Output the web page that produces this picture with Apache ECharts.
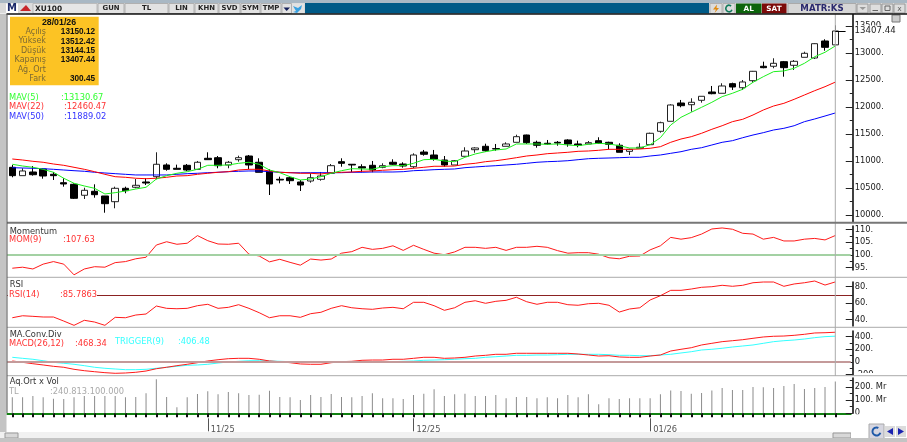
<!DOCTYPE html>
<html>
<head>
<meta charset="utf-8">
<title>XU100</title>
<style>
  html, body { margin: 0; padding: 0; background: #fff; }
  #chart { width: 907px; height: 442px; }
</style>
<script src="https://cdn.jsdelivr.net/npm/echarts@6/dist/echarts.min.js"></script>
</head>
<body>
<div id="chart"></div>
<script>
// session dates, one per candle (last slot is the empty gap before the scale)
const dates = ['06/10/25','07/10/25','08/10/25','09/10/25','10/10/25','13/10/25','14/10/25','15/10/25','16/10/25','17/10/25',
  '20/10/25','21/10/25','22/10/25','23/10/25','24/10/25','27/10/25','28/10/25','30/10/25','31/10/25',
  '03/11/25','04/11/25','05/11/25','06/11/25','07/11/25','10/11/25','11/11/25','12/11/25','13/11/25','14/11/25',
  '17/11/25','18/11/25','19/11/25','20/11/25','21/11/25','24/11/25','25/11/25','26/11/25','27/11/25','28/11/25',
  '01/12/25','02/12/25','03/12/25','04/12/25','05/12/25','08/12/25','09/12/25','10/12/25','11/12/25','12/12/25',
  '15/12/25','16/12/25','17/12/25','18/12/25','19/12/25','22/12/25','23/12/25','24/12/25','25/12/25','26/12/25',
  '29/12/25','30/12/25','31/12/25',
  '02/01/26','05/01/26','06/01/26','07/01/26','08/01/26','09/01/26','12/01/26','13/01/26','14/01/26','15/01/26',
  '16/01/26','19/01/26','20/01/26','21/01/26','22/01/26','23/01/26','26/01/26','27/01/26','28/01/26',''];
const monthStarts = { '03/11/25': '11/25', '01/12/25': '12/25', '02/01/26': '01/26' };

const open = [10883,10728,10796,10852,10754,10598,10568,10365,10439,10352,10246,10494,10513,10611,10709,10926,10865,10920,10846,11050,
  11061,10926,11024,11092,10976,10802,10661,10690,10611,10629,10661,10772,10987,10939,10894,10920,10883,10976,10944,10894,
  11166,11111,11018,10926,11087,11209,11272,11228,11272,11346,11481,11346,11328,11346,11389,11315,11315,11376,11346,11291,
  11179,11235,11302,11550,11735,12074,12042,12124,12278,12254,12432,12357,12487,12754,12754,12839,12772,12920,12907,13222,13150.12];
const close = [10728,10815,10746,10722,10728,10574,10309,10457,10376,10209,10494,10450,10550,10592,10939,10846,10846,10833,10976,11024,
  10913,10976,11061,10926,10791,10574,10648,10635,10555,10690,10722,10913,10957,10926,10870,10833,10913,10939,10907,11111,
  11124,11037,10926,11005,11185,11241,11190,11222,11315,11450,11339,11291,11315,11333,11315,11291,11339,11328,11309,11161,
  11216,11254,11513,11709,12037,12024,12087,12198,12246,12389,12370,12463,12661,12728,12809,12728,12846,12994,13172,13105,13407.44];
const low = [10698,10728,10728,10672,10648,10524,10296,10296,10320,10042,10124,10402,10494,10555,10661,10820,10846,10815,10846,11024,
  10865,10865,10987,10846,10791,10370,10587,10574,10444,10598,10635,10772,10894,10791,10791,10791,10865,10926,10876,10865,
  11098,11005,10894,10926,11087,11153,11172,11190,11272,11346,11315,11246,11302,11283,11265,11254,11315,11328,11217,11161,
  11111,11235,11302,11524,11735,11994,11913,12080,12235,12254,12315,12315,12450,12717,12717,12561,12685,12920,12889,13042,13144.15];
const high = [10926,10865,10907,10865,10796,10680,10587,10505,10568,10352,10524,10524,10666,10680,11161,10957,10932,10944,11000,11161,
  11092,11000,11098,11111,11050,10846,10709,10709,10648,10772,10796,10944,11050,10944,10939,11000,10957,11031,10976,11142,
  11204,11204,11092,11018,11254,11254,11320,11315,11346,11487,11487,11376,11389,11370,11402,11376,11370,11439,11357,11328,
  11228,11328,11524,11728,12050,12130,12161,12198,12389,12439,12450,12500,12667,12839,12902,12852,12870,13024,13180,13254,13512.42];

const mav5 = [10939,10907,10883,10846,10791,10680,10587,10537,10494,10389,10413,10444,10481,10513,10666,10728,10772,10802,10846,10920,
  10920,10926,10957,10976,10939,10833,10783,10709,10648,10666,10709,10772,10820,10857,10852,10846,10894,10913,10913,10957,
  11024,11031,11000,10987,11068,11130,11172,11204,11222,11315,11315,11315,11309,11315,11296,11283,11309,11328,11315,11283,
  11241,11241,11302,11431,11666,11809,11902,11994,12087,12191,12254,12328,12457,12561,12654,12667,12717,12809,12931,13013,13130.67];
const mav22 = [11037,11018,10994,10976,10944,10920,10883,10846,10802,10753,10709,10698,10680,10672,10680,10698,10722,10728,10753,10772,
  10791,10802,10833,10846,10846,10815,10791,10783,10772,10772,10759,10783,10791,10796,10809,10815,10828,10839,10846,10865,
  10883,10902,10902,10907,10939,10957,10987,11005,11031,11061,11092,11111,11135,11148,11161,11179,11185,11198,11216,11216,
  11216,11222,11235,11265,11346,11407,11450,11513,11587,11653,11728,11772,11852,11944,12018,12068,12142,12222,12302,12376,12460.47];
const mav50 = [10876,10870,10865,10857,10846,10833,10820,10809,10791,10778,10765,10753,10741,10741,10741,10741,10753,10765,10772,10783,
  10791,10802,10809,10815,10815,10802,10791,10783,10781,10783,10783,10783,10783,10791,10791,10796,10796,10796,10802,10820,
  10828,10839,10846,10852,10876,10889,10902,10913,10926,10939,10957,10976,10987,10994,11005,11024,11042,11050,11055,11061,
  11068,11068,11092,11111,11142,11172,11216,11246,11296,11346,11376,11431,11481,11524,11574,11605,11653,11728,11778,11833,11889.02];

const momentum = [94.8,95.2,94.5,96.4,97.4,96.4,92.2,94.5,95.4,95.2,97,97.4,98.5,99.1,103.9,105.2,104.2,104.6,107.6,105.6,
  104.3,104.2,104.6,100.3,99.6,97.3,98.3,97.1,96,98.4,98,98.4,100.7,101.3,103,102.2,102.6,103.6,101.8,103.8,
  102.2,100.7,100.1,101.2,103,103,102.6,103,101.8,103,103,103.4,103,101.7,100.7,100.9,100.9,100.3,98.9,98.5,
  99.5,99.6,102,103.6,106.9,106.2,106.8,108.2,110.2,110.6,110.1,108.5,108.2,106.2,106.9,105.5,105.5,106.2,106.5,105.9,107.63];
const rsi = [42.4,44.8,44.1,43.3,43.3,38.4,33.2,39.3,37.2,33.2,42.9,42.4,45.7,46.9,56.6,53.8,53.3,53.8,57,58.7,
  53.8,55,58.2,53.8,48.5,42.4,44.8,44.8,42.9,47.3,49,53.8,57,54.5,53.3,52.6,54.2,55,53.3,61.1,
  61.1,57,51.4,54.5,61.1,63,59.9,62.3,63.5,67.2,61.8,58.7,61.1,61.1,58.2,57.5,59.4,59.9,57.5,49.3,
  53,54.5,63.9,69.1,75.6,75.6,77.2,79.3,80,81.7,80.5,81.7,84.8,85.7,85.7,80.5,83.3,84.8,86.9,82,85.7863];
const macd = [16,-5,-27,-47,-68,-83,-115,-137,-153,-168,-178,-173,-162,-142,-106,-83,-58,-36,-11,16,
  36,52,58,58,43,16,5,-11,-31,-36,-36,-11,5,11,27,31,31,43,43,58,
  74,74,58,63,74,94,105,121,121,137,137,137,137,137,137,126,110,94,99,79,
  74,74,94,110,173,200,225,268,294,320,335,351,373,394,405,409,420,436,457,461,468.34];
const trigger = [74,58,43,20,-5,-20,-36,-58,-83,-99,-110,-121,-121,-115,-99,-83,-68,-52,-47,-36,
  -16,0,11,20,20,16,11,5,-5,-5,-5,-5,-5,-5,0,0,5,5,11,16,
  27,31,36,43,52,58,74,83,94,105,105,110,110,115,121,121,121,121,115,105,
  105,99,99,110,121,142,162,189,200,216,236,252,268,294,320,335,346,362,383,399,406.48];
// in millions of TL
const volume = [121,121,131,121,111,109,121,131,131,131,131,121,124,152,258,124,45,121,146,167,
  144,162,152,139,141,172,124,121,101,139,124,146,124,121,131,152,114,114,109,139,
  149,182,131,144,149,131,131,139,114,124,124,114,121,114,139,121,144,68,114,109,
  114,114,114,144,174,169,149,154,174,192,177,177,199,197,192,207,222,184,192,199,240.8];

const infoRows = [['Açılış','13150.12'],['Yüksek','13512.42'],['Düşük','13144.15'],['Kapanış','13407.44'],['Ağ. Ort',''],['Fark','300.45']];
const toolbarBtns = [['GUN',98,26],['TL',125,43],['LIN',169,25],['KHN',195,23],['SVD',219,21],['SYM',241,19],['TMP',261,20]];

const SLOT = 10.2875;
const PLOT_LEFT = 7.16;
const PLOT_W = SLOT * dates.length;
const last = dates.length - 2;

// panels: pixel band plus the value range that band shows
const panels = [
  { top: 14,  bottom: 222,   min: 9870,  max: 13722, major: [10000,10500,11000,11500,12000,12500,13000,13500], minor: [10250,10750,11250,11750,12250,12750,13250], fmt: v => v + '.' },
  { top: 226, bottom: 270,   min: 94.1,  max: 111.37, major: [95,100,105,110], minor: [97.5,102.5,107.5], fmt: v => v + '.' },
  { top: 282, bottom: 326,   min: 32.4,  max: 85.7,  major: [40,60,80], minor: [50,70], fmt: v => v + '.' },
  { top: 331, bottom: 375,   min: -204.7, max: 488,  major: [-200,0,200,400], minor: [-100,100,300], fmt: v => v === 0 ? '0' : v + '.' },
  { top: 378, bottom: 413.3, min: 0,     max: 268,   major: [0,100,200], minor: [50,150,250], fmt: v => v === 0 ? '0' : v + '. Mr' }
];

const grid = panels.map(p => ({ left: PLOT_LEFT, width: PLOT_W, top: p.top, height: p.bottom - p.top }));
grid.push({ left: PLOT_LEFT, width: PLOT_W, top: 14, height: 362 }); // cursor overlay

const xAxis = panels.map((p, i) => ({
  type: 'category', gridIndex: i, data: dates, show: i === 4,
  axisLine: { lineStyle: { color: '#128012', width: 2 } }, axisTick: { show: false }, axisLabel: { show: false }
}));
// small black date ticks under the volume panel
xAxis.push({
  type: 'category', gridIndex: 4, data: dates, position: 'bottom', offset: 5,
  axisLine: { show: false }, axisLabel: { show: false },
  axisTick: { show: true, alignWithLabel: true, interval: i => i <= last, length: 4, lineStyle: { color: '#111', width: 2 } }
});
// tall month marks with their labels
xAxis.push({
  type: 'category', gridIndex: 4, data: dates, position: 'bottom', offset: 5,
  axisLine: { show: false },
  axisTick: { show: true, alignWithLabel: true, interval: (i, d) => d in monthStarts, length: 13, lineStyle: { color: '#555', width: 1 } },
  axisLabel: {
    interval: (i, d) => d in monthStarts, formatter: d => monthStarts[d] || '', margin: 8,
    align: 'left', color: '#555', fontFamily: 'DejaVu Sans', fontSize: 8.3, padding: [0, 0, 0, 3]
  }
});
xAxis.push({ type: 'category', gridIndex: 5, data: dates, show: false });

const yAxis = [];
panels.forEach((p, i) => {
  yAxis.push({
    type: 'value', gridIndex: i, position: 'right', offset: 2, min: p.min, max: p.max, splitLine: { show: false },
    axisLine: { show: true, lineStyle: { color: '#000', width: 1.5 } },
    axisTick: { show: true, inside: true, length: 7, customValues: p.major, lineStyle: { color: '#222' } },
    axisLabel: { show: true, margin: 2, customValues: p.major, formatter: p.fmt, color: '#222', fontFamily: 'DejaVu Sans', fontSize: 8.3 }
  });
  yAxis.push({
    type: 'value', gridIndex: i, position: 'right', offset: 2, min: p.min, max: p.max, splitLine: { show: false },
    axisLine: { show: false }, axisLabel: { show: false },
    axisTick: { show: true, inside: true, length: 3, customValues: p.minor, lineStyle: { color: '#222' } }
  });
});
yAxis.push({ type: 'value', gridIndex: 5, min: 0, max: 1, show: false });

function indicator(panel, data, color, extra) {
  return Object.assign({
    type: 'line', xAxisIndex: panel, yAxisIndex: panel * 2, data: data, symbol: 'none', clip: false,
    lineStyle: { color: color, width: 1 }, silent: true, animation: false
  }, extra);
}
function refLine(value, color, width) {
  return { silent: true, symbol: 'none', animation: false, label: { show: false }, lineStyle: { color: color, width: width, type: 'solid' }, data: [{ yAxis: value }] };
}

const series = [
  {
    type: 'candlestick', xAxisIndex: 0, yAxisIndex: 0, barWidth: 7, animation: false, silent: true,
    data: open.map((o, i) => [o, close[i], low[i], high[i]]),
    itemStyle: { color: '#fff', color0: '#000', borderColor: '#222', borderColor0: '#000', borderWidth: 1 },
    markLine: {
      silent: true, symbol: 'none', animation: false, z: 20,
      lineStyle: { color: '#000', width: 1, type: 'solid' },
      label: { show: true, position: 'end', distance: 9, formatter: '13407.44', color: '#222', fontFamily: 'DejaVu Sans', fontSize: 8.6, backgroundColor: '#fff', padding: [1, 1, 1, 0] },
      data: [[{ coord: [dates[last], close[last]] }, { coord: [dates[last + 1], close[last]] }]]
    }
  },
  indicator(0, mav50, '#0000ff', { yAxisIndex: 0 }),
  indicator(0, mav22, '#ff0000', { yAxisIndex: 0 }),
  indicator(0, mav5, '#1cf01c', { yAxisIndex: 0 }),
  indicator(1, momentum, '#ff1a1a', { markLine: refLine(100, '#a3d1a3', 2) }),
  indicator(2, rsi, '#ff1a1a', { markLine: refLine(70, '#8b2222', 1) }),
  indicator(3, trigger, '#33ffff', { markLine: refLine(0, '#c49a9a', 2) }),
  indicator(3, macd, '#ff1a1a'),
  {
    type: 'bar', xAxisIndex: 4, yAxisIndex: 8, data: volume, barWidth: 1, silent: true, animation: false,
    itemStyle: { color: '#8c8c8c' }
  },
  {
    type: 'bar', xAxisIndex: 7, yAxisIndex: yAxis.length - 1, barWidth: 1, silent: true, animation: false, z: 10,
    itemStyle: { color: '#ababab' }, data: dates.map((d, i) => i === last ? 1 : null)
  }
];

// window chrome and panel captions
const g = [];
function box(x, y, w, h, fill, stroke) {
  g.push({ type: 'rect', z: 100, silent: true, shape: { x: x, y: y, width: w, height: h }, style: { fill: fill, stroke: stroke || null, lineWidth: stroke ? 1 : 0 } });
}
function hline(x1, x2, y, color, width) {
  g.push({ type: 'line', z: 101, silent: true, shape: { x1: x1, y1: y, x2: x2, y2: y }, style: { stroke: color, lineWidth: width || 1 } });
}
function label(x, y, str, color, opts) {
  opts = opts || {};
  g.push({ type: 'text', z: 102, silent: true, x: x, y: y, style: {
    text: str, fill: color, textAlign: opts.align || 'left', textVerticalAlign: 'middle',
    font: (opts.bold ? 'bold ' : '') + (opts.size || 8.3) + 'px ' + (opts.family || '"DejaVu Sans"') } });
}
function poly(points, fill) {
  g.push({ type: 'polygon', z: 102, silent: true, shape: { points: points }, style: { fill: fill } });
}

// white patches over the clipped scale labels
box(854, 373, 53, 5.2, '#fff');
box(854, 414.2, 53, 18, '#fff');

// panel separators
hline(7, 907, 222.7, '#777', 2);
hline(7, 907, 277.3, '#aaa', 1);
hline(7, 907, 327.3, '#aaa', 1);
hline(7, 907, 375.7, '#aaa', 1);

// frame
box(0, 0, 907, 3, '#a9b8c4');
box(0, 3, 907, 10.5, '#d9d9d9');
box(0, 14, 6.5, 420, '#c4c4c4');
hline(6.5, 907, 14, '#111', 1.5);
g.push({ type: 'line', z: 101, silent: true, shape: { x1: 7, y1: 14, x2: 7, y2: 413 }, style: { stroke: '#555', lineWidth: 1 } });

box(6, 3.5, 12, 10, '#fff');
label(12, 8.7, 'M', '#1c2a6a', { align: 'center', bold: true, size: 10 });
box(19, 3.5, 13, 10, '#ddd');
poly([[20, 11], [26, 5], [31, 11]], '#c8262a');
box(33, 3.5, 64, 10, '#e6e6e6', '#bbb');
label(35, 8.7, 'XU100', '#222', { bold: true, size: 7.4 });
toolbarBtns.forEach(b => {
  box(b[1], 3.5, b[2], 10, '#e2e2e2', '#b0b0b0');
  label(b[1] + b[2] / 2, 8.7, b[0], '#222', { align: 'center', bold: true, size: 6.9 });
});
box(282, 3.5, 9.5, 10, '#e2e2e2', '#b0b0b0');
poly([[283.5, 7.5], [290, 7.5], [286.7, 11]], '#14205a');
box(292, 3.5, 12, 10, '#e2e2e2');
poly([[293, 6], [298, 8], [302, 5], [301, 9], [297, 13], [293, 12], [296, 11]], '#39a1e0');
box(305, 3, 404, 10.5, '#005a87');

box(710, 3.5, 12, 10, '#dcdcdc', '#b0b0b0');
poly([[717, 4.5], [713, 9.5], [716, 9.5], [714.5, 13], [719, 8], [716.5, 8]], '#e08a10');
box(723, 3.5, 12, 10, '#dcdcdc', '#b0b0b0');
g.push({ type: 'arc', z: 102, silent: true, shape: { cx: 729, cy: 8.5, r: 3.2, startAngle: 0.4, endAngle: 5.4 }, style: { stroke: '#127a5c', lineWidth: 1.6, fill: null } });
box(736, 3.5, 25.5, 10, '#0c640c');
label(748.7, 8.7, 'AL', '#fff', { align: 'center', bold: true, size: 7.3 });
box(762, 3.5, 24.5, 10, '#7c0a0a');
label(774, 8.7, 'SAT', '#fff', { align: 'center', bold: true, size: 7.3 });
box(788, 3.5, 68, 10, '#d6d6d6', '#aaa');
label(822, 8.7, 'MATR:KS', '#2a2a6e', { align: 'center', bold: true, size: 8.6 });
[857, 870, 882, 894].forEach(x => box(x, 4, 11, 9, '#dedede', '#999'));
poly([[859.5, 7], [866, 7], [862.7, 10]], '#999');
hline(872.5, 878, 10.5, '#666', 1);
box(885, 6, 5, 4.5, null, '#666');
label(899.5, 8.7, 'x', '#666', { align: 'center', size: 7.5 });
box(892, 15, 8, 7, '#ccc', '#777');

// ohlc box
box(10, 16.7, 88.7, 68.6, '#fcc324');
label(59, 22.7, '28/01/26', '#111', { align: 'center', bold: true, size: 8.8, family: '"Liberation Sans"' });
infoRows.forEach((r, i) => {
  const y = 32 + i * 9.4;
  label(46, y, r[0], '#7d6a33', { align: 'right', size: 8 });
  if (r[1]) label(95, y, r[1], '#111', { align: 'right', bold: true, size: 8.2, family: '"Liberation Sans"' });
});

// moving average captions
label(9, 98, 'MAV(5)', '#33ff33');
label(61, 98, ':13130.67', '#33ff33');
label(9, 107, 'MAV(22)', '#ff3333');
label(64, 107, ':12460.47', '#ff3333');
label(9, 116.5, 'MAV(50)', '#3333ff');
label(64, 116.5, ':11889.02', '#3333ff');

// indicator captions
label(9.7, 231.5, 'Momentum', '#333');
label(9, 240, 'MOM(9)', '#ff3333');
label(63, 240, ':107.63', '#ff3333');

box(8, 290, 89, 10, '#fff');
label(9.7, 285, 'RSI', '#333');
label(9, 295, 'RSI(14)', '#ff3333');
label(60, 295, ':85.7863', '#ff3333');

label(9.7, 335, 'MA.Conv.Div', '#333');
label(9, 344, 'MACD(26,12)', '#ff3333');
label(75, 344, ':468.34', '#ff3333');
label(115, 341.5, 'TRIGGER(9)', '#33ffff');
label(178, 341.5, ':406.48', '#33ffff');

label(9.7, 382, 'Aq.Ort x Vol', '#333');
label(9, 391.5, 'TL', '#aaa');
label(50, 391.5, ':240.813.100.000', '#aaa');

// scrollbar and navigation
box(0, 432, 851, 6, '#f1f1f1');
box(5, 433, 13, 5, '#d8d8d8', '#999');
box(833, 433, 18, 5, '#d8d8d8', '#999');
box(851, 432, 56, 6, '#fff');
box(869, 424, 15, 15, '#d6d6e0', '#aaa');
g.push({ type: 'arc', z: 102, silent: true, shape: { cx: 876.5, cy: 431.5, r: 4, startAngle: 0.3, endAngle: 5.2 }, style: { stroke: '#1f5aa8', lineWidth: 2, fill: null } });
box(885, 426, 10, 11, '#dcdcdc');
poly([[893, 428], [893, 435], [887, 431.5]], '#1a22b0');
box(896, 426, 10, 11, '#dcdcdc');
poly([[898, 428], [898, 435], [904, 431.5]], '#1a22b0');
box(0, 438, 907, 4, '#c4c4c4');

const chart = echarts.init(document.getElementById('chart'), null, { renderer: 'canvas' });
chart.setOption({
  animation: false, backgroundColor: '#fff', tooltip: { show: false },
  grid: grid, xAxis: xAxis, yAxis: yAxis, series: series, graphic: { elements: g }
});
</script>
</body>
</html>
